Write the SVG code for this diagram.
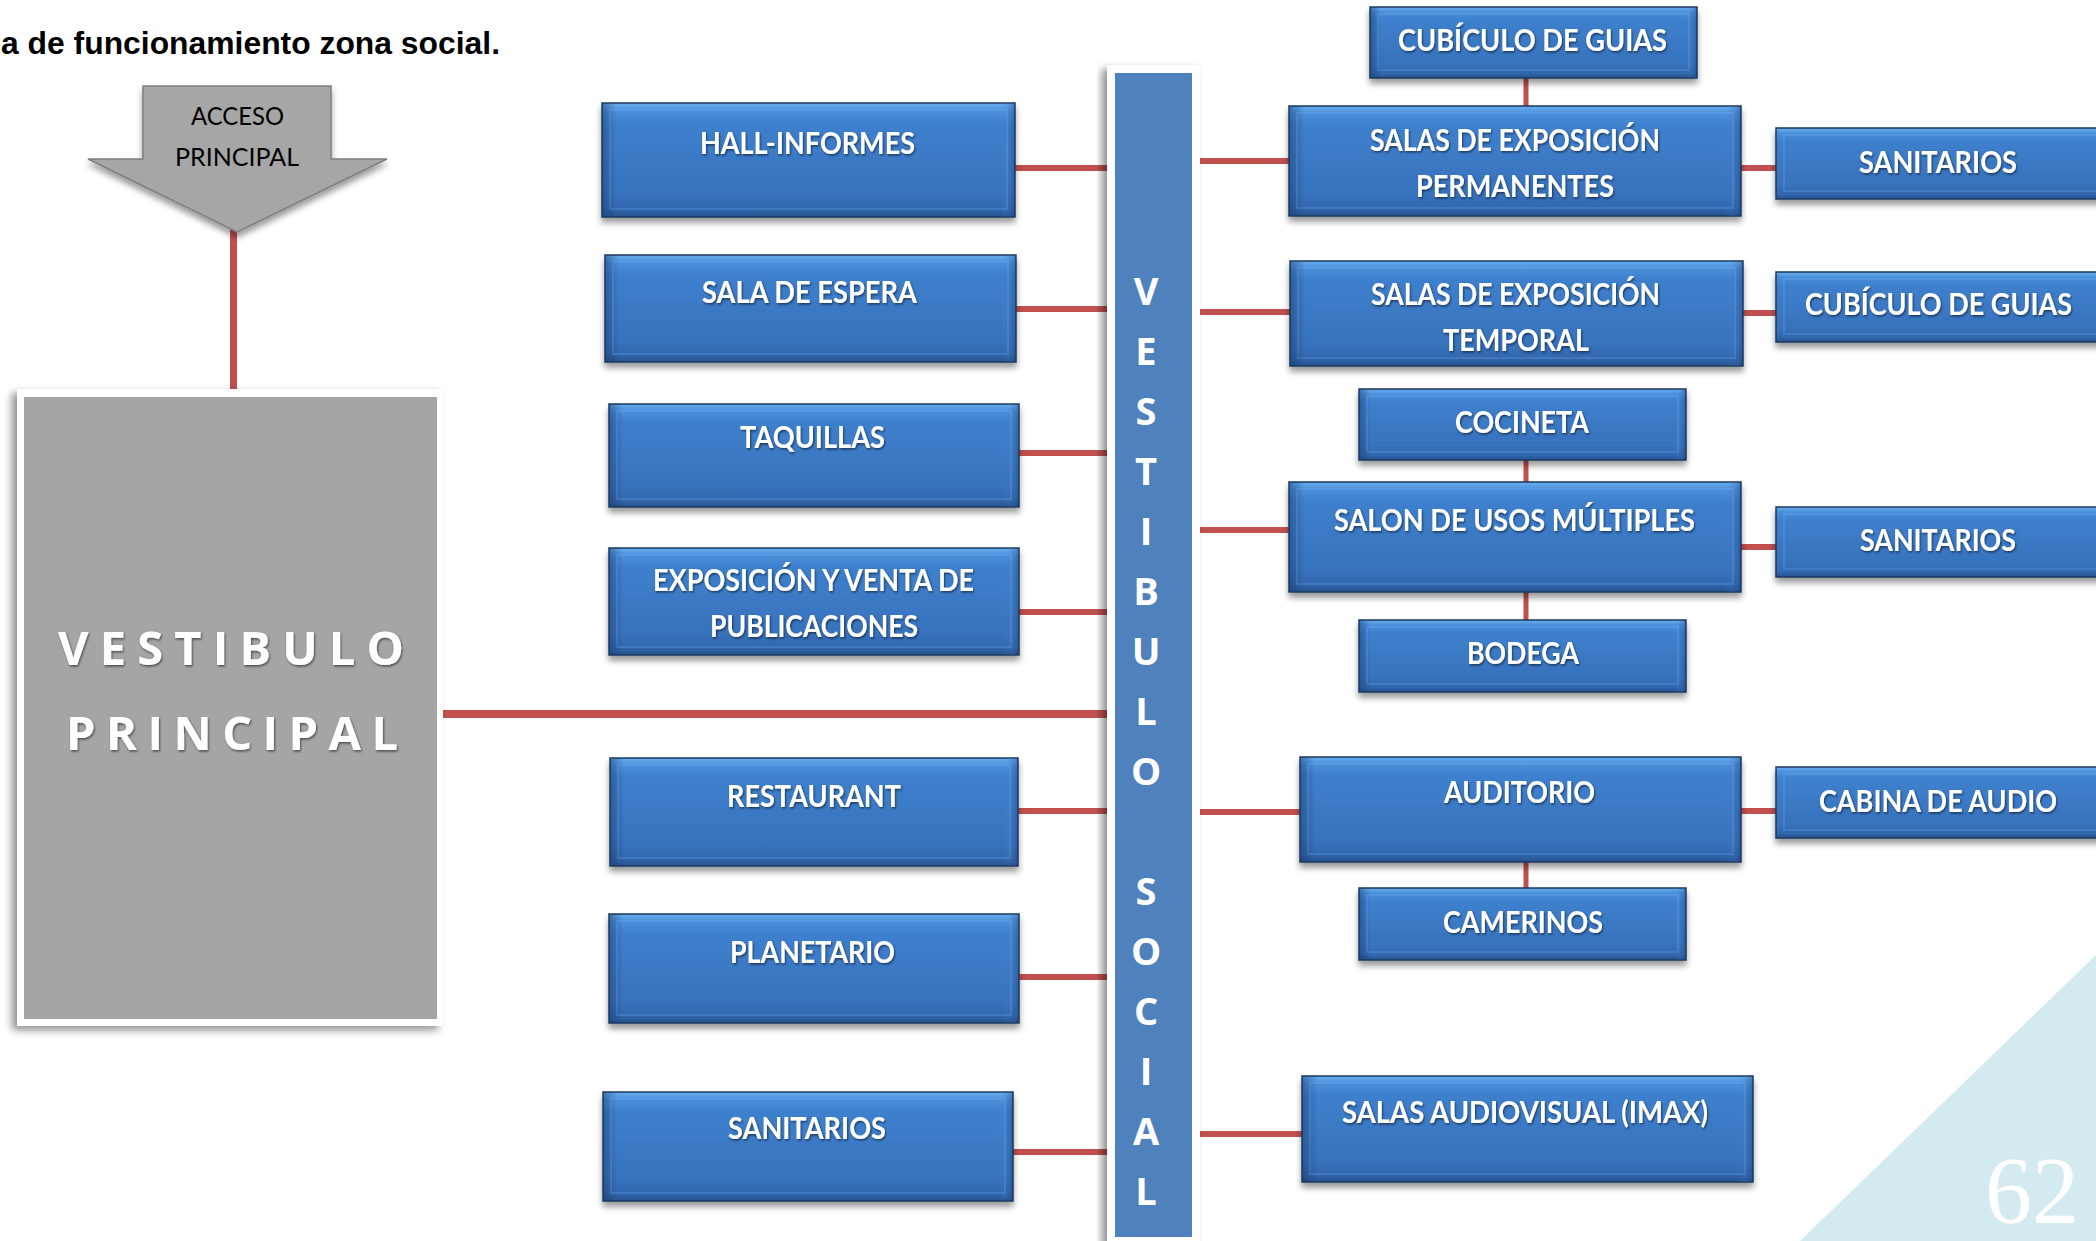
<svg xmlns="http://www.w3.org/2000/svg" width="2096" height="1241" viewBox="0 0 2096 1241">
<defs>
<linearGradient id="bx" x1="0" y1="0" x2="0" y2="1">
<stop offset="0" stop-color="#6aaeee"/>
<stop offset="0.07" stop-color="#4b8fdb"/>
<stop offset="0.18" stop-color="#3e80cd"/>
<stop offset="0.8" stop-color="#3872bd"/>
<stop offset="0.93" stop-color="#3167ae"/>
<stop offset="1" stop-color="#27528f"/>
</linearGradient>
<linearGradient id="edge" x1="0" y1="0" x2="1" y2="0">
<stop offset="0" stop-color="#163562" stop-opacity="0.45"/>
<stop offset="0.035" stop-color="#163562" stop-opacity="0"/>
<stop offset="0.965" stop-color="#5aa0ff" stop-opacity="0"/>
<stop offset="1" stop-color="#163562" stop-opacity="0.4"/>
</linearGradient>
<filter id="sh" x="-5%" y="-10%" width="110%" height="135%">
<feGaussianBlur in="SourceAlpha" stdDeviation="3"/>
<feOffset dx="0" dy="5"/>
<feComponentTransfer><feFuncA type="linear" slope="0.4"/></feComponentTransfer>
<feMerge><feMergeNode/><feMergeNode in="SourceGraphic"/></feMerge>
</filter>
<filter id="shl" x="-10%" y="-5%" width="120%" height="110%">
<feGaussianBlur in="SourceAlpha" stdDeviation="4"/>
<feOffset dx="-5" dy="4"/>
<feComponentTransfer><feFuncA type="linear" slope="0.45"/></feComponentTransfer>
<feMerge><feMergeNode/><feMergeNode in="SourceGraphic"/></feMerge>
</filter>
<filter id="ts" x="-5%" y="-20%" width="110%" height="150%">
<feDropShadow dx="1" dy="1.5" stdDeviation="1" flood-color="#000" flood-opacity="0.55"/>
</filter>
<style>
.bx{fill:url(#bx);stroke:#1d385f;stroke-width:1.5;filter:url(#sh)}
.ov{fill:url(#edge)}
.in{fill:none;stroke:#8cc0ff;stroke-opacity:0.18;stroke-width:2}
.lbl{font-family:Lato,"Open Sans",sans-serif;font-weight:700;font-size:30px;fill:#fff;filter:url(#ts)}
.con{stroke:#c0504d;stroke-width:6;fill:none}
.col{font-family:"Open Sans",Lato,sans-serif;font-weight:700;font-size:38px;fill:#fff;text-anchor:middle}
.big{font-family:"Open Sans",Lato,sans-serif;font-weight:700;font-size:47px;fill:#fff;filter:url(#ts)}
</style>
</defs>
<rect width="2096" height="1241" fill="#fff"/>
<polygon points="1800,1241 2096,955 2096,1241" fill="#d3eaf1"/>
<text x="1985" y="1223" font-family="Liberation Serif, serif" font-size="95" fill="#fff" textLength="94" lengthAdjust="spacingAndGlyphs">62</text>
<text x="1" y="54" font-family="Liberation Sans, Arial, sans-serif" font-weight="700" font-size="32" fill="#000" textLength="499" lengthAdjust="spacingAndGlyphs">a de funcionamiento zona social.</text>

<g id="connectors">
<line class="con" x1="233.5" y1="230" x2="233.5" y2="390" style="stroke-width:7"/>
<line class="con" x1="443" y1="714" x2="1108" y2="714" style="stroke-width:8"/>
<line class="con" x1="1013" y1="168" x2="1108" y2="168"/>
<line class="con" x1="1014" y1="309" x2="1108" y2="309"/>
<line class="con" x1="1017" y1="453" x2="1108" y2="453"/>
<line class="con" x1="1017" y1="612" x2="1108" y2="612"/>
<line class="con" x1="1016" y1="811" x2="1108" y2="811"/>
<line class="con" x1="1017" y1="977" x2="1108" y2="977"/>
<line class="con" x1="1011" y1="1152" x2="1108" y2="1152"/>
<line class="con" x1="1198" y1="161" x2="1291" y2="161"/>
<line class="con" x1="1198" y1="312" x2="1292" y2="312"/>
<line class="con" x1="1198" y1="530" x2="1291" y2="530"/>
<line class="con" x1="1198" y1="812" x2="1302" y2="812"/>
<line class="con" x1="1198" y1="1134" x2="1304" y2="1134"/>
<line class="con" x1="1739" y1="168" x2="1778" y2="168"/>
<line class="con" x1="1741" y1="313" x2="1778" y2="313"/>
<line class="con" x1="1739" y1="547" x2="1778" y2="547"/>
<line class="con" x1="1739" y1="811" x2="1778" y2="811"/>
<line class="con" x1="1526" y1="76" x2="1526" y2="108" style="stroke-width:5"/>
<line class="con" x1="1526" y1="458" x2="1526" y2="484" style="stroke-width:5"/>
<line class="con" x1="1526" y1="590" x2="1526" y2="622" style="stroke-width:5"/>
<line class="con" x1="1526" y1="860" x2="1526" y2="890" style="stroke-width:5"/>
</g>

<g id="acceso">
<polygon points="143,86 331,86 331,159 387,159 237,232 88,159 143,159" fill="#a6a6a6" stroke="#7f7f7f" stroke-width="1.5" filter="url(#sh)"/>
<text x="191" y="125" font-family="Lato, 'Open Sans', sans-serif" font-size="25" fill="#000" textLength="93" lengthAdjust="spacingAndGlyphs">ACCESO</text>
<text x="175" y="166" font-family="Lato, 'Open Sans', sans-serif" font-size="25" fill="#000" textLength="124" lengthAdjust="spacingAndGlyphs">PRINCIPAL</text>
</g>

<g id="vestibulo-principal">
<rect x="17" y="389" width="426" height="637" fill="#fff" filter="url(#shl)"/>
<rect x="24" y="397" width="413" height="622" fill="#a5a5a5"/>
<text class="big" x="58" y="665" textLength="346" lengthAdjust="spacing">VESTIBULO</text>
<text class="big" x="66" y="750" textLength="332" lengthAdjust="spacing">PRINCIPAL</text>
</g>

<g id="vestibulo-social">
<rect x="1107" y="65" width="93" height="1190" fill="#fff" filter="url(#shl)"/>
<rect x="1115" y="73" width="77" height="1164" fill="#4f81bd"/>
<text class="col" x="1146" y="305">V</text>
<text class="col" x="1146" y="365">E</text>
<text class="col" x="1146" y="425">S</text>
<text class="col" x="1146" y="485">T</text>
<text class="col" x="1146" y="545">I</text>
<text class="col" x="1146" y="605">B</text>
<text class="col" x="1146" y="665">U</text>
<text class="col" x="1146" y="725">L</text>
<text class="col" x="1146" y="785">O</text>
<text class="col" x="1146" y="905">S</text>
<text class="col" x="1146" y="965">O</text>
<text class="col" x="1146" y="1025">C</text>
<text class="col" x="1146" y="1085">I</text>
<text class="col" x="1146" y="1145">A</text>
<text class="col" x="1146" y="1205">L</text>
</g>

<g id="hall-informes"><rect class="bx" x="602" y="103" width="413" height="114"/><rect class="ov" x="602" y="103" width="413" height="114"/><rect class="in" x="610" y="110" width="397" height="99"/><text class="lbl" x="700" y="154" textLength="215" lengthAdjust="spacingAndGlyphs">HALL-INFORMES</text></g>
<g id="sala-espera"><rect class="bx" x="605" y="255" width="411" height="107"/><rect class="ov" x="605" y="255" width="411" height="107"/><rect class="in" x="613" y="262" width="395" height="92"/><text class="lbl" x="702" y="303" textLength="215" lengthAdjust="spacingAndGlyphs">SALA DE ESPERA</text></g>
<g id="taquillas"><rect class="bx" x="609" y="404" width="410" height="103"/><rect class="ov" x="609" y="404" width="410" height="103"/><rect class="in" x="617" y="411" width="394" height="88"/><text class="lbl" x="740" y="448" textLength="145" lengthAdjust="spacingAndGlyphs">TAQUILLAS</text></g>
<g id="exposicion-venta"><rect class="bx" x="609" y="548" width="410" height="107"/><rect class="ov" x="609" y="548" width="410" height="107"/><rect class="in" x="617" y="555" width="394" height="92"/><text class="lbl" x="653" y="591" textLength="321" lengthAdjust="spacingAndGlyphs">EXPOSICIÓN Y VENTA DE</text><text class="lbl" x="710" y="637" textLength="208" lengthAdjust="spacingAndGlyphs">PUBLICACIONES</text></g>
<g id="restaurant"><rect class="bx" x="610" y="758" width="408" height="108"/><rect class="ov" x="610" y="758" width="408" height="108"/><rect class="in" x="618" y="765" width="392" height="93"/><text class="lbl" x="727" y="807" textLength="174" lengthAdjust="spacingAndGlyphs">RESTAURANT</text></g>
<g id="planetario"><rect class="bx" x="609" y="914" width="410" height="109"/><rect class="ov" x="609" y="914" width="410" height="109"/><rect class="in" x="617" y="921" width="394" height="94"/><text class="lbl" x="730" y="963" textLength="165" lengthAdjust="spacingAndGlyphs">PLANETARIO</text></g>
<g id="sanitarios-1"><rect class="bx" x="603" y="1092" width="410" height="109"/><rect class="ov" x="603" y="1092" width="410" height="109"/><rect class="in" x="611" y="1099" width="394" height="94"/><text class="lbl" x="728" y="1139" textLength="158" lengthAdjust="spacingAndGlyphs">SANITARIOS</text></g>

<g id="cubiculo-guias-1"><rect class="bx" x="1370" y="7" width="327" height="71"/><rect class="ov" x="1370" y="7" width="327" height="71"/><rect class="in" x="1378" y="14" width="311" height="56"/><text class="lbl" x="1398" y="51" textLength="269" lengthAdjust="spacingAndGlyphs">CUBÍCULO DE GUIAS</text></g>
<g id="salas-permanentes"><rect class="bx" x="1289" y="106" width="452" height="110"/><rect class="ov" x="1289" y="106" width="452" height="110"/><rect class="in" x="1297" y="113" width="436" height="95"/><text class="lbl" x="1370" y="151" textLength="290" lengthAdjust="spacingAndGlyphs">SALAS DE EXPOSICIÓN</text><text class="lbl" x="1416" y="197" textLength="198" lengthAdjust="spacingAndGlyphs">PERMANENTES</text></g>
<g id="sanitarios-2"><rect class="bx" x="1776" y="128" width="340" height="71"/><rect class="in" x="1784" y="135" width="340" height="56"/><text class="lbl" x="1859" y="173" textLength="158" lengthAdjust="spacingAndGlyphs">SANITARIOS</text></g>
<g id="salas-temporal"><rect class="bx" x="1290" y="261" width="453" height="105"/><rect class="ov" x="1290" y="261" width="453" height="105"/><rect class="in" x="1298" y="268" width="437" height="90"/><text class="lbl" x="1371" y="305" textLength="289" lengthAdjust="spacingAndGlyphs">SALAS DE EXPOSICIÓN</text><text class="lbl" x="1443" y="351" textLength="146" lengthAdjust="spacingAndGlyphs">TEMPORAL</text></g>
<g id="cubiculo-guias-2"><rect class="bx" x="1776" y="272" width="340" height="70"/><rect class="in" x="1784" y="279" width="340" height="55"/><text class="lbl" x="1805" y="315" textLength="267" lengthAdjust="spacingAndGlyphs">CUBÍCULO DE GUIAS</text></g>
<g id="cocineta"><rect class="bx" x="1359" y="389" width="327" height="71"/><rect class="ov" x="1359" y="389" width="327" height="71"/><rect class="in" x="1367" y="396" width="311" height="56"/><text class="lbl" x="1455" y="433" textLength="134" lengthAdjust="spacingAndGlyphs">COCINETA</text></g>
<g id="salon-usos-multiples"><rect class="bx" x="1289" y="482" width="452" height="110"/><rect class="ov" x="1289" y="482" width="452" height="110"/><rect class="in" x="1297" y="489" width="436" height="95"/><text class="lbl" x="1334" y="531" textLength="361" lengthAdjust="spacingAndGlyphs">SALON DE USOS MÚLTIPLES</text></g>
<g id="sanitarios-3"><rect class="bx" x="1776" y="507" width="340" height="70"/><rect class="in" x="1784" y="514" width="340" height="55"/><text class="lbl" x="1860" y="551" textLength="156" lengthAdjust="spacingAndGlyphs">SANITARIOS</text></g>
<g id="bodega"><rect class="bx" x="1359" y="620" width="327" height="72"/><rect class="ov" x="1359" y="620" width="327" height="72"/><rect class="in" x="1367" y="627" width="311" height="57"/><text class="lbl" x="1467" y="664" textLength="112" lengthAdjust="spacingAndGlyphs">BODEGA</text></g>
<g id="auditorio"><rect class="bx" x="1300" y="757" width="441" height="105"/><rect class="ov" x="1300" y="757" width="441" height="105"/><rect class="in" x="1308" y="764" width="425" height="90"/><text class="lbl" x="1444" y="803" textLength="151" lengthAdjust="spacingAndGlyphs">AUDITORIO</text></g>
<g id="cabina-audio"><rect class="bx" x="1776" y="767" width="340" height="71"/><rect class="in" x="1784" y="774" width="340" height="56"/><text class="lbl" x="1819" y="812" textLength="238" lengthAdjust="spacingAndGlyphs">CABINA DE AUDIO</text></g>
<g id="camerinos"><rect class="bx" x="1359" y="888" width="327" height="72"/><rect class="ov" x="1359" y="888" width="327" height="72"/><rect class="in" x="1367" y="895" width="311" height="57"/><text class="lbl" x="1443" y="933" textLength="160" lengthAdjust="spacingAndGlyphs">CAMERINOS</text></g>
<g id="salas-audiovisual"><rect class="bx" x="1302" y="1076" width="451" height="106"/><rect class="ov" x="1302" y="1076" width="451" height="106"/><rect class="in" x="1310" y="1083" width="435" height="91"/><text class="lbl" x="1342" y="1123" textLength="366" lengthAdjust="spacingAndGlyphs">SALAS AUDIOVISUAL (IMAX)</text></g>
</svg>
